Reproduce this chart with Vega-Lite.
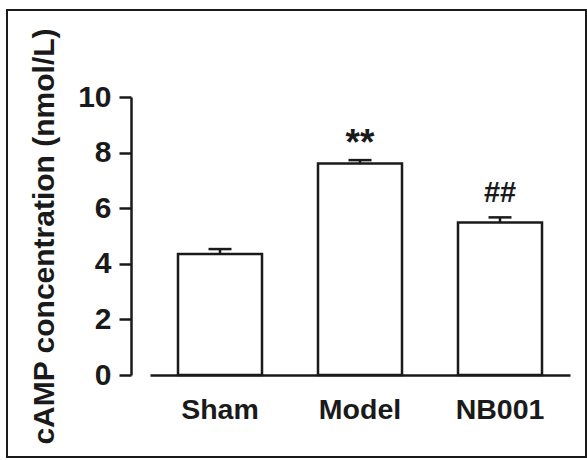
{
  "$schema": "https://vega.github.io/schema/vega-lite/v6.json",
  "width": 579,
  "height": 447,
  "autosize": {"type": "none"},
  "padding": {"left": 7, "top": 10, "right": 1, "bottom": 3},
  "background": "white",
  "config": {
    "view": {"stroke": "#1a1a1a", "strokeWidth": 2},
    "font": "Liberation Sans"
  },
  "data": {
    "values": [
      {"group": "Sham", "mean": 4.35, "upper": 4.53},
      {"group": "Model", "mean": 7.61, "upper": 7.73},
      {"group": "NB001", "mean": 5.49, "upper": 5.67}
    ]
  },
  "encoding": {
    "x": {
      "field": "group",
      "type": "nominal",
      "sort": null,
      "scale": {"range": [143, 563], "paddingInner": 0.4, "paddingOuter": 0.2},
      "axis": {
        "orient": "bottom",
        "offset": -82,
        "ticks": false,
        "domainWidth": 2.5,
        "domainColor": "#1a1a1a",
        "labelFont": "Liberation Sans",
        "labelFontSize": 28.5,
        "labelFontWeight": "bold",
        "labelColor": "#1a1a1a",
        "labelPadding": 20,
        "labelAngle": 0,
        "title": null,
        "encode": {
          "labels": {
            "update": {
              "dx": {"signal": "datum.value === 'Sham' ? 9 : (datum.value === 'Model' ? 3 : -7)"}
            }
          }
        }
      }
    }
  },
  "layer": [
    {
      "mark": {"type": "bar", "fill": "white", "stroke": "#1a1a1a", "strokeWidth": 2.5},
      "encoding": {
        "y": {
          "field": "mean",
          "type": "quantitative",
          "title": "cAMP concentration (nmol/L)",
          "scale": {"domain": [0, 10], "range": [365, 87], "nice": false},
          "axis": {
            "values": [0, 2, 4, 6, 8, 10],
            "offset": -124,
            "grid": false,
            "tickSize": 12,
            "tickWidth": 2.5,
            "tickColor": "#1a1a1a",
            "domainWidth": 2.5,
            "domainColor": "#1a1a1a",
            "labelFont": "Liberation Sans",
            "labelFontSize": 30,
            "labelFontWeight": "bold",
            "labelColor": "#1a1a1a",
            "labelPadding": 8,
            "titleFont": "Liberation Sans",
            "titleFontSize": 30,
            "titleFontWeight": "bold",
            "titleColor": "#1a1a1a",
            "titlePadding": 18
          }
        }
      }
    },
    {
      "mark": {"type": "rule", "stroke": "#1a1a1a", "strokeWidth": 2.5},
      "encoding": {
        "y": {"field": "mean", "type": "quantitative", "title": "cAMP concentration (nmol/L)"},
        "y2": {"field": "upper"}
      }
    },
    {
      "mark": {"type": "tick", "orient": "horizontal", "size": 23, "thickness": 2.5, "color": "#1a1a1a", "opacity": 1},
      "encoding": {
        "y": {"field": "upper", "type": "quantitative", "title": "cAMP concentration (nmol/L)"}
      }
    },
    {
      "transform": [{"filter": "datum.group === 'Model'"}],
      "mark": {"type": "text", "text": "**", "font": "Liberation Sans", "fontSize": 37, "fontWeight": "bold", "baseline": "alphabetic", "align": "center", "dy": -5, "color": "#1a1a1a"},
      "encoding": {
        "y": {"field": "upper", "type": "quantitative", "title": "cAMP concentration (nmol/L)"}
      }
    },
    {
      "transform": [{"filter": "datum.group === 'NB001'"}],
      "mark": {"type": "text", "text": "##", "font": "Liberation Sans", "fontSize": 29, "fontWeight": "bold", "baseline": "alphabetic", "align": "center", "dy": -15, "color": "#1a1a1a"},
      "encoding": {
        "y": {"field": "upper", "type": "quantitative", "title": "cAMP concentration (nmol/L)"}
      }
    }
  ]
}
